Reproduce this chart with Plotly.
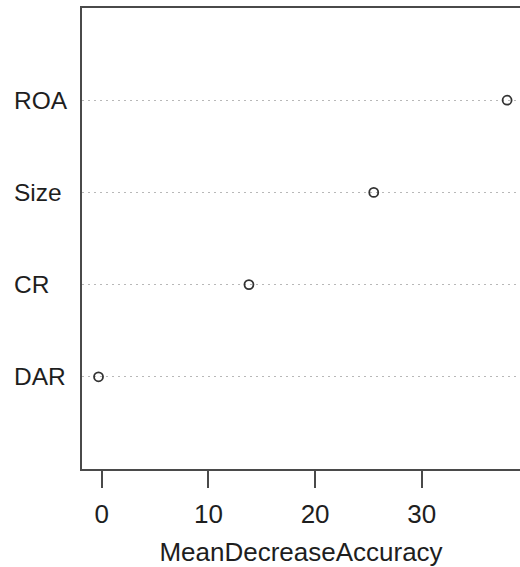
import plotly.graph_objects as go

# Variable importance from a random forest (mean decrease in accuracy)
variables = ["DAR", "CR", "Size", "ROA"]
mean_decrease_accuracy = [-0.3, 13.8, 25.5, 38.0]
x_ticks = [0, 10, 20, 30]

FONT = "Liberation Sans, Arial, sans-serif"
INK = "#1e1e1e"
AXIS = "#4a4a4a"

fig = go.Figure()
fig.add_trace(
    go.Scatter(
        x=mean_decrease_accuracy,
        y=variables,
        mode="markers",
        marker=dict(
            symbol="circle-open",
            size=9,
            color="#333333",
            line=dict(width=1.8, color="#333333"),
        ),
        showlegend=False,
        cliponaxis=False,
    )
)

# left-aligned variable names, as in a dotchart
for name in variables:
    fig.add_annotation(
        x=-70 / 438,
        xref="paper",
        y=name,
        yref="y",
        text=name,
        showarrow=False,
        xanchor="left",
        yanchor="middle",
        font=dict(family=FONT, size=24.5, color=INK),
    )

fig.update_layout(
    width=520,
    height=567,
    margin=dict(l=82, r=0, t=8, b=98),
    paper_bgcolor="white",
    plot_bgcolor="white",
    font=dict(family=FONT, size=26, color=INK),
)

fig.update_xaxes(
    range=[-1.85, 39.21],
    tickvals=x_ticks,
    ticks="outside",
    ticklen=17,
    tickwidth=2,
    tickcolor=AXIS,
    tickfont=dict(family=FONT, size=26, color=INK),
    ticklabelstandoff=4,
    showline=True,
    mirror=True,
    linecolor=AXIS,
    linewidth=2,
    showgrid=False,
    zeroline=False,
    title=dict(
        text="MeanDecreaseAccuracy",
        font=dict(family=FONT, size=26, color=INK),
        standoff=16,
    ),
)

fig.update_yaxes(
    type="category",
    categoryorder="array",
    categoryarray=variables,
    range=[-1, len(variables)],
    showticklabels=False,
    ticks="",
    showline=True,
    mirror=False,
    linecolor=AXIS,
    linewidth=2,
    showgrid=True,
    gridcolor="#b8b8b8",
    gridwidth=1,
    griddash="2px,4px",
    zeroline=False,
)

fig.write_html("out.html")
